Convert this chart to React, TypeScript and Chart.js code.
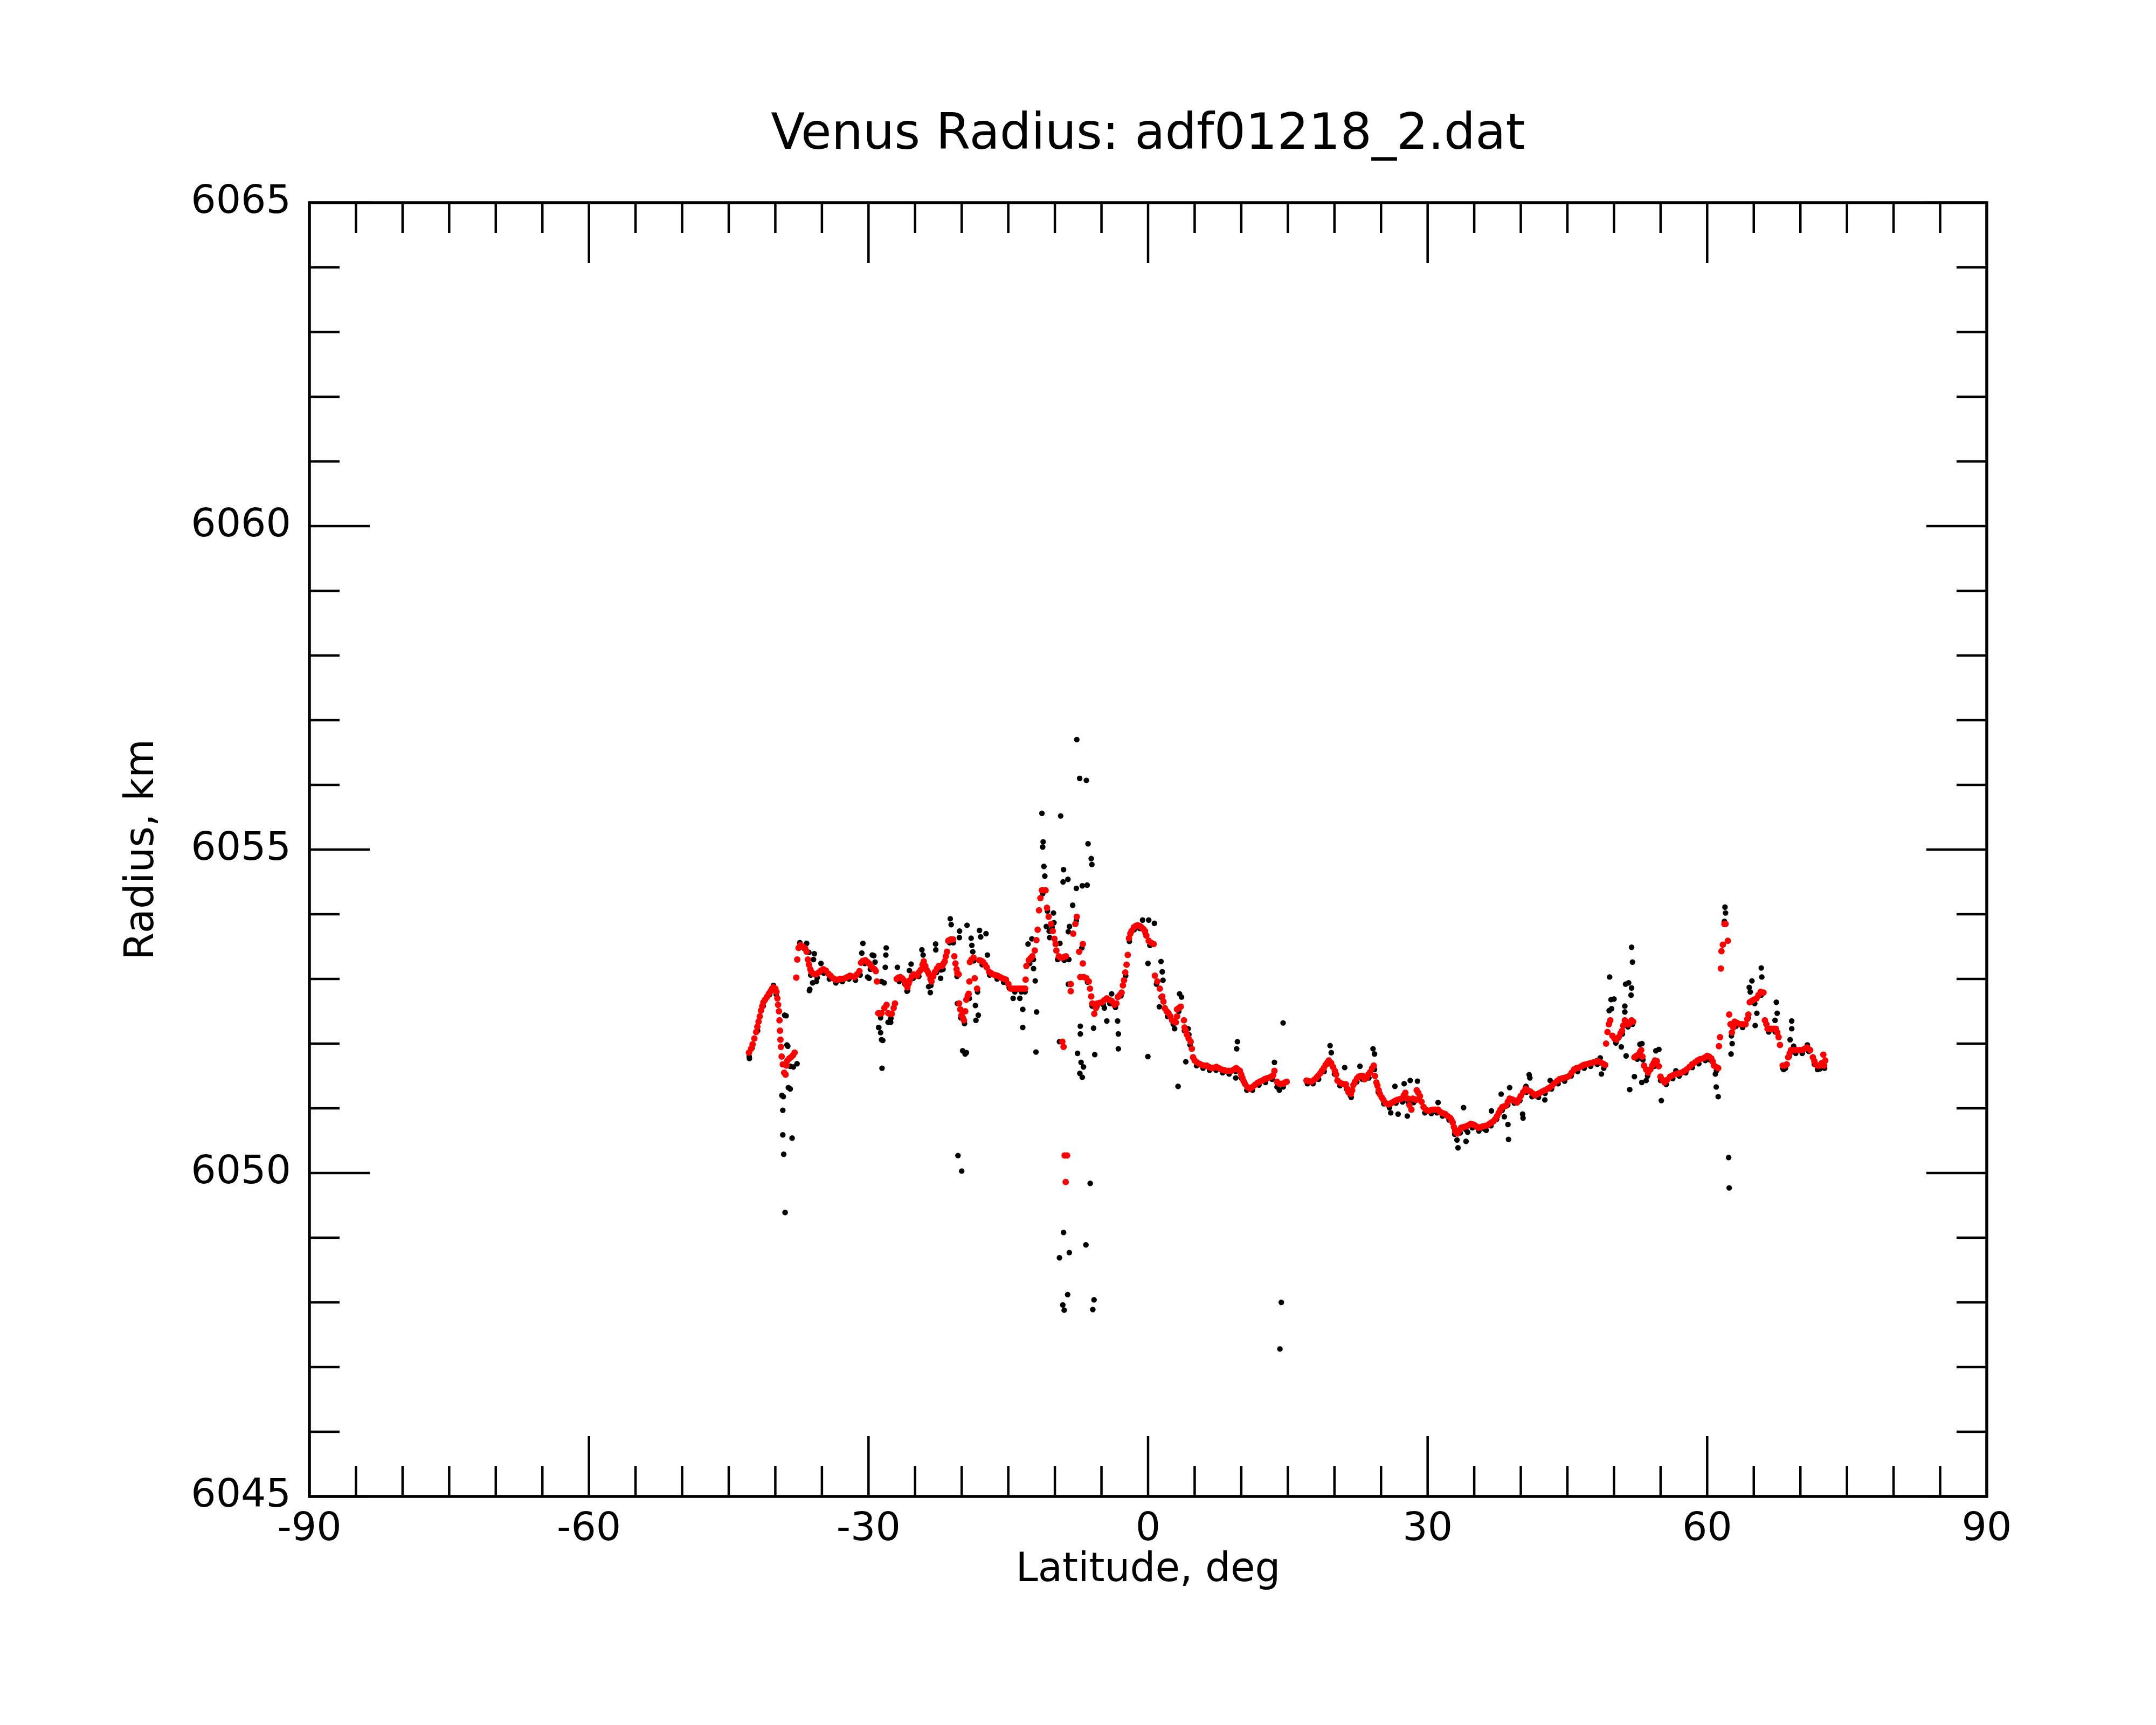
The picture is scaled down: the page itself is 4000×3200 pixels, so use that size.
import { useEffect, useRef } from "react"
import { Chart, registerables, type ChartConfiguration, type Plugin } from "chart.js"

Chart.register(...registerables)

type Pt = [number, number] // [latitude deg, radius km]

// axis setup
const LAT_MIN = -90
const LAT_MAX = 90
const LAT_LABEL_STEP = 30
const LAT_MINOR_STEP = 5
const R_MIN = 6045
const R_MAX = 6065
const R_LABEL_STEP = 5
const R_MINOR_STEP = 1

const TITLE = "Venus Radius: adf01218_2.dat"
const X_TITLE = "Latitude, deg"
const Y_TITLE = "Radius, km"

// filtered profile (red), south part
const fitSouth: Pt[] = [
  [-42.83, 6051.86], [-42.6, 6051.92], [-42.44, 6051.99], [-42.25, 6052.08], [-42.06, 6052.18], [-41.93, 6052.26],
  [-41.8, 6052.34], [-41.67, 6052.42], [-41.54, 6052.51], [-41.4, 6052.58], [-41.28, 6052.64], [-41.1, 6052.68],
  [-40.9, 6052.72], [-40.7, 6052.77], [-40.51, 6052.81], [-40.35, 6052.85], [-40.2, 6052.87], [-40.0, 6052.85],
  [-39.87, 6052.8], [-39.78, 6052.7], [-39.7, 6052.6], [-39.61, 6052.5], [-39.55, 6052.36], [-39.5, 6052.2],
  [-39.45, 6052.06], [-39.4, 6051.95], [-39.32, 6051.8], [-39.2, 6051.68], [-39.05, 6051.55], [-38.9, 6051.52],
  [-38.8, 6051.66], [-38.7, 6051.74], [-38.5, 6051.77], [-38.32, 6051.79], [-38.1, 6051.82], [-37.93, 6051.86],
  [-37.75, 6053.02], [-37.65, 6053.3], [-37.5, 6053.48], [-37.3, 6053.52], [-37.03, 6053.5], [-36.8, 6053.47],
  [-36.64, 6053.42], [-36.5, 6053.3], [-36.39, 6053.22], [-36.25, 6053.15], [-36.13, 6053.11], [-35.9, 6053.08],
  [-35.61, 6053.07], [-35.35, 6053.1], [-35.1, 6053.13], [-34.85, 6053.15], [-34.58, 6053.13], [-34.3, 6053.08],
  [-34.07, 6053.05], [-33.8, 6053.01], [-33.55, 6052.99], [-33.3, 6052.99], [-33.04, 6053.0], [-32.78, 6053.0],
  [-32.52, 6053.01], [-32.26, 6053.03], [-32.0, 6053.05], [-31.75, 6053.04], [-31.49, 6053.03], [-31.23, 6053.07],
  [-30.97, 6053.12], [-30.8, 6053.25], [-30.6, 6053.28], [-30.33, 6053.29], [-30.1, 6053.26], [-29.94, 6053.24],
  [-29.75, 6053.2], [-29.56, 6053.17], [-29.35, 6053.15], [-29.22, 6053.12], [-29.09, 6052.96],
  [-28.95, 6052.47], [-28.8, 6052.46], [-28.6, 6052.47], [-28.3, 6052.55], [-28.06, 6052.6], [-27.88, 6052.47],
  [-27.7, 6052.46], [-27.5, 6052.46], [-27.3, 6052.55], [-27.16, 6052.62],
  [-26.98, 6053.0], [-26.8, 6053.02], [-26.59, 6053.03], [-26.4, 6053.01], [-26.21, 6052.98], [-26.0, 6052.92],
  [-25.82, 6052.87], [-25.7, 6052.93], [-25.56, 6052.98], [-25.35, 6053.04], [-25.17, 6053.07], [-24.98, 6053.06],
  [-24.79, 6053.05], [-24.6, 6053.1], [-24.4, 6053.14], [-24.2, 6053.22], [-24.07, 6053.27], [-23.9, 6053.2],
  [-23.76, 6053.14], [-23.6, 6053.1], [-23.5, 6053.07], [-23.35, 6053.0], [-23.24, 6052.96], [-23.05, 6053.04],
  [-22.86, 6053.11], [-22.65, 6053.16], [-22.47, 6053.2], [-22.25, 6053.2], [-22.08, 6053.2], [-21.95, 6053.24],
  [-21.82, 6053.27], [-21.7, 6053.35], [-21.57, 6053.42], [-21.44, 6053.59], [-21.3, 6053.6], [-21.18, 6053.61],
  [-21.05, 6053.61], [-20.92, 6053.61], [-20.79, 6053.35], [-20.67, 6053.24], [-20.55, 6053.15], [-20.46, 6053.09],
  [-20.33, 6053.07],
  [-20.28, 6052.62], [-20.15, 6052.53], [-20.02, 6052.44], [-19.88, 6052.4], [-19.76, 6052.36], [-19.62, 6052.5],
  [-19.5, 6052.68], [-19.35, 6052.74], [-19.25, 6052.77],
  [-19.17, 6052.96], [-19.12, 6053.26], [-18.95, 6053.3], [-18.73, 6053.33], [-18.6, 6053.01], [-18.35, 6052.85],
  [-18.09, 6053.29], [-17.9, 6053.28], [-17.7, 6053.26], [-17.5, 6053.22], [-17.31, 6053.18], [-17.06, 6053.11],
  [-16.85, 6053.09], [-16.67, 6053.07], [-16.4, 6053.06], [-16.15, 6053.05], [-15.9, 6053.03], [-15.64, 6053.01],
  [-15.45, 6053.0], [-15.25, 6052.99], [-14.99, 6052.92], [-14.74, 6052.85], [-14.5, 6052.85], [-14.22, 6052.85],
  [-13.95, 6052.85], [-13.71, 6052.85], [-13.45, 6052.85], [-13.19, 6052.85],
]

// filtered profile (red), around the equator
const fitEquator: Pt[] = [
  [-13.14, 6052.99], [-13.06, 6053.2], [-12.8, 6053.29], [-12.6, 6053.32], [-12.42, 6053.35], [-12.16, 6053.44],
  [-11.98, 6053.6], [-11.85, 6053.76], [-11.7, 6054.06], [-11.55, 6054.25], [-11.39, 6054.37], [-11.2, 6054.37],
  [-11.0, 6054.37], [-10.85, 6054.1], [-10.67, 6053.96], [-10.41, 6053.85], [-10.23, 6053.74], [-10.05, 6053.62],
  [-9.92, 6053.54], [-9.84, 6053.44], [-9.58, 6053.35], [-9.4, 6053.33], [-9.2, 6053.33], [-9.0, 6053.34],
  [-8.81, 6053.35],
  [-9.2, 6052.03], [-9.07, 6051.95], [-8.95, 6050.27], [-8.7, 6050.27], [-8.84, 6049.86],
  [-8.3, 6052.92], [-8.3, 6052.81], [-8.04, 6053.7], [-7.8, 6053.85], [-7.65, 6053.96], [-7.39, 6053.42],
  [-7.0, 6053.54], [-7.0, 6053.24], [-7.27, 6053.03], [-6.9, 6053.03], [-6.62, 6053.01], [-6.36, 6052.96],
  [-6.23, 6052.85], [-6.1, 6052.73], [-5.98, 6052.62], [-5.77, 6052.46], [-5.6, 6052.55], [-5.46, 6052.62],
  [-5.2, 6052.63], [-4.94, 6052.64], [-4.7, 6052.67], [-4.43, 6052.7], [-4.2, 6052.68], [-3.91, 6052.66],
  [-3.63, 6052.6], [-3.4, 6052.62], [-3.24, 6052.72], [-3.05, 6052.75], [-2.84, 6052.79], [-2.7, 6052.9],
  [-2.58, 6052.98], [-2.45, 6053.1], [-2.31, 6053.22], [-2.18, 6053.37], [-2.05, 6053.63], [-1.9, 6053.7],
  [-1.78, 6053.74], [-1.52, 6053.8], [-1.3, 6053.82], [-1.12, 6053.83], [-0.9, 6053.82], [-0.72, 6053.8],
  [-0.5, 6053.77], [-0.33, 6053.74], [-0.19, 6053.67], [0.07, 6053.59], [0.3, 6053.56], [0.6, 6053.54],
  [0.73, 6053.05], [0.99, 6052.96], [1.26, 6052.85], [1.52, 6052.73], [1.65, 6052.65], [1.79, 6052.55],
  [2.0, 6052.5], [2.19, 6052.47], [2.4, 6052.42], [2.58, 6052.36], [2.8, 6052.34], [2.98, 6052.33],
  [3.11, 6052.53], [3.11, 6052.42], [3.3, 6052.55], [3.51, 6052.57], [3.85, 6052.36], [3.91, 6052.25],
  [4.05, 6052.2], [4.17, 6052.14], [4.35, 6052.08], [4.57, 6052.03], [4.7, 6051.92], [4.83, 6051.79],
  [5.0, 6051.74], [5.23, 6051.71], [5.5, 6051.69], [5.76, 6051.67], [6.0, 6051.66], [6.29, 6051.66],
  [6.55, 6051.64], [6.82, 6051.62], [7.1, 6051.63], [7.34, 6051.64], [7.6, 6051.62], [7.87, 6051.6],
  [8.15, 6051.59], [8.4, 6051.58], [8.65, 6051.58], [8.93, 6051.58], [9.2, 6051.6], [9.46, 6051.62],
  [9.65, 6051.6], [9.86, 6051.58], [10.0, 6051.52], [10.12, 6051.47], [10.25, 6051.42], [10.39, 6051.38],
  [10.65, 6051.33], [10.92, 6051.3], [11.2, 6051.33], [11.45, 6051.36], [11.7, 6051.39], [11.97, 6051.41],
  [12.25, 6051.43], [12.5, 6051.45], [12.7, 6051.46], [12.9, 6051.47], [13.2, 6051.49], [13.43, 6051.51],
  [13.56, 6051.58], [13.83, 6051.41], [14.09, 6051.38], [14.3, 6051.38], [14.49, 6051.38], [14.7, 6051.4],
  [14.88, 6051.41],
  [17.0, 6051.43], [17.25, 6051.42], [17.53, 6051.41], [17.8, 6051.44], [18.06, 6051.47], [18.23, 6051.5],
  [18.46, 6051.54], [18.65, 6051.58], [18.85, 6051.62], [19.05, 6051.67], [19.25, 6051.71], [19.4, 6051.74],
  [19.65, 6051.7], [19.85, 6051.64], [20.04, 6051.58], [20.18, 6051.52], [20.32, 6051.43], [20.55, 6051.4],
  [20.84, 6051.38], [21.05, 6051.37], [21.23, 6051.37], [21.4, 6051.3], [21.5, 6051.25], [21.76, 6051.22],
  [21.9, 6051.28], [22.03, 6051.36], [22.2, 6051.41], [22.42, 6051.46], [22.6, 6051.49], [22.82, 6051.5],
  [23.05, 6051.5], [23.22, 6051.45], [23.44, 6051.47], [23.65, 6051.52], [23.83, 6051.56], [24.05, 6051.62],
  [24.22, 6051.66], [24.35, 6051.5], [24.5, 6051.4], [24.61, 6051.35], [24.75, 6051.28], [24.87, 6051.22],
]

// filtered profile (red), north part
const fitNorth: Pt[] = [
  [25.07, 6051.17], [25.26, 6051.13], [25.5, 6051.08], [25.78, 6051.06], [26.0, 6051.07], [26.18, 6051.09],
  [26.45, 6051.11], [26.7, 6051.13], [26.95, 6051.14], [27.22, 6051.15], [27.45, 6051.2], [27.61, 6051.24],
  [27.87, 6051.15], [28.05, 6051.05], [28.26, 6050.98], [28.39, 6051.15], [28.6, 6051.14], [28.78, 6051.13],
  [28.83, 6051.28], [29.0, 6051.24], [29.17, 6051.19], [29.35, 6051.1], [29.56, 6051.02], [29.8, 6050.98],
  [30.08, 6050.96], [30.35, 6050.97], [30.6, 6050.98], [30.85, 6050.98], [31.12, 6050.98], [31.3, 6050.95],
  [31.51, 6050.93], [31.7, 6050.92], [31.9, 6050.91], [32.15, 6050.88], [32.43, 6050.85], [32.55, 6050.82],
  [32.69, 6050.78], [32.82, 6050.71], [32.95, 6050.65], [33.08, 6050.62], [33.21, 6050.61], [33.4, 6050.66],
  [33.6, 6050.7], [33.85, 6050.71], [34.12, 6050.72], [34.4, 6050.74], [34.64, 6050.76], [34.85, 6050.75],
  [35.03, 6050.74], [35.22, 6050.72], [35.42, 6050.7], [35.7, 6050.71], [35.94, 6050.72], [36.2, 6050.73],
  [36.46, 6050.74], [36.65, 6050.76], [36.85, 6050.78], [37.05, 6050.8], [37.24, 6050.83], [37.45, 6050.88],
  [37.63, 6050.93], [37.82, 6050.98], [38.02, 6051.02], [38.2, 6051.03], [38.41, 6051.04], [38.6, 6051.1],
  [38.8, 6051.15], [39.0, 6051.14], [39.2, 6051.13], [39.4, 6051.11], [39.59, 6051.09], [39.8, 6051.14],
  [39.98, 6051.19], [40.25, 6051.25], [40.5, 6051.3], [40.75, 6051.28], [41.02, 6051.26], [41.28, 6051.23],
  [41.54, 6051.2], [41.8, 6051.22], [42.06, 6051.24], [42.32, 6051.26], [42.58, 6051.28], [42.85, 6051.3],
  [43.1, 6051.32], [43.35, 6051.35], [43.62, 6051.39], [43.9, 6051.42], [44.14, 6051.45], [44.4, 6051.46],
  [44.66, 6051.47], [44.92, 6051.48], [45.19, 6051.5], [45.45, 6051.55], [45.71, 6051.6], [45.97, 6051.62],
  [46.23, 6051.63], [46.5, 6051.65], [46.75, 6051.67], [47.0, 6051.68], [47.27, 6051.69], [47.53, 6051.7],
  [47.79, 6051.71], [48.05, 6051.72], [48.31, 6051.73], [48.57, 6051.71], [48.83, 6051.69], [49.05, 6051.67],
  [49.15, 6052.0], [49.3, 6052.18], [49.45, 6052.3], [49.6, 6052.36], [49.83, 6052.12], [50.05, 6052.08],
  [50.27, 6052.06], [50.5, 6052.1], [50.7, 6052.16], [50.86, 6052.2], [51.0, 6052.28], [51.16, 6052.36],
  [51.4, 6052.33], [51.6, 6052.3], [51.75, 6052.33], [51.89, 6052.36], [52.05, 6052.34],
  [52.19, 6051.79], [52.4, 6051.81], [52.63, 6051.83], [52.8, 6051.87], [52.92, 6051.9], [53.05, 6051.8],
  [53.22, 6051.66], [53.45, 6051.6], [53.66, 6051.55], [53.9, 6051.6], [54.1, 6051.66], [54.25, 6051.7],
  [54.4, 6051.74], [54.6, 6051.73], [54.8, 6051.65], [54.99, 6051.49], [55.2, 6051.44], [55.43, 6051.4],
  [55.7, 6051.44], [56.02, 6051.49], [56.3, 6051.51], [56.61, 6051.53], [56.9, 6051.54], [57.2, 6051.55],
  [57.5, 6051.57], [57.79, 6051.6], [58.1, 6051.64], [58.38, 6051.68], [58.7, 6051.71], [58.97, 6051.74],
  [59.25, 6051.76], [59.56, 6051.77], [59.8, 6051.79], [60.0, 6051.81], [60.2, 6051.8], [60.44, 6051.77],
  [60.6, 6051.72], [60.73, 6051.66], [60.95, 6051.64], [61.18, 6051.62],
  [61.26, 6051.96], [61.38, 6052.1], [61.47, 6053.16], [61.53, 6053.43], [61.68, 6053.53], [61.85, 6053.85],
  [61.97, 6053.85], [62.21, 6053.59], [62.36, 6052.45], [62.5, 6052.3], [62.65, 6052.17], [62.8, 6052.25],
  [62.94, 6052.34], [63.2, 6052.32], [63.53, 6052.3], [63.8, 6052.3], [64.12, 6052.3], [64.3, 6052.38],
  [64.42, 6052.45], [64.57, 6052.64], [64.8, 6052.66], [65.01, 6052.68], [65.3, 6052.7], [65.5, 6052.75],
  [65.74, 6052.8], [66.04, 6052.79], [66.19, 6052.36], [66.35, 6052.3], [66.48, 6052.23], [66.7, 6052.23],
  [66.92, 6052.23], [67.15, 6052.23], [67.37, 6052.23], [67.52, 6052.17], [67.66, 6052.1], [67.81, 6051.98],
  [68.1, 6051.66], [68.3, 6051.66], [68.54, 6051.68], [68.69, 6051.79], [68.85, 6051.85], [68.99, 6051.9],
  [69.3, 6051.9], [69.58, 6051.9], [69.9, 6051.9], [70.17, 6051.9], [70.45, 6051.92], [70.75, 6051.94],
  [71.05, 6051.9], [71.34, 6051.79], [71.5, 6051.73], [71.64, 6051.68], [71.85, 6051.66], [72.08, 6051.66],
  [72.3, 6051.7], [72.46, 6051.83], [72.67, 6051.74], [72.55, 6051.66],
]

// raw measurements (black) that sit along the filtered profile
const rawTrack: Pt[] = [
  [-42.8, 6051.8], [-42.5, 6051.93], [-41.9, 6052.2], [-41.3, 6052.58], [-40.6, 6052.76], [-40.2, 6052.9],
  [-39.9, 6052.76], [-37.4, 6053.5], [-36.9, 6053.47], [-36.2, 6053.06], [-35.5, 6053.02], [-34.8, 6053.09],
  [-34.2, 6053.0], [-33.5, 6052.94], [-32.8, 6052.96], [-32.1, 6053.0], [-31.4, 6052.98], [-30.9, 6053.06],
  [-30.4, 6053.24], [-29.8, 6053.15], [-28.7, 6052.4], [-27.6, 6052.39], [-26.7, 6052.96], [-26.1, 6052.92],
  [-25.8, 6052.82], [-25.2, 6053.01], [-24.6, 6053.04], [-23.9, 6053.15], [-23.3, 6052.9], [-22.7, 6053.1],
  [-22.0, 6053.15], [-21.3, 6053.56], [-20.9, 6053.56], [-20.5, 6053.04], [-20.1, 6052.4], [-19.7, 6052.31],
  [-18.7, 6053.28], [-18.3, 6052.8], [-17.8, 6053.22], [-17.0, 6053.06], [-16.2, 6053.0], [-15.5, 6052.95],
  [-14.9, 6052.86], [-14.3, 6052.8], [-13.6, 6052.8], [-13.2, 6052.8], [-12.7, 6053.24], [-12.3, 6053.3],
  [-11.3, 6054.32], [-10.8, 6054.05], [-10.3, 6053.8], [-9.7, 6053.3], [-9.0, 6053.29], [-8.5, 6053.3],
  [-7.7, 6053.9], [-7.1, 6053.48], [-6.5, 6052.95], [-6.0, 6052.58], [-5.5, 6052.57], [-4.8, 6052.6],
  [-4.1, 6052.62], [-3.5, 6052.56], [-2.9, 6052.74], [-2.4, 6053.05], [-2.0, 6053.58], [-1.5, 6053.76],
  [-0.9, 6053.78], [-0.3, 6053.7], [0.2, 6053.52], [0.9, 6052.92], [1.4, 6052.72], [2.1, 6052.42],
  [2.7, 6052.3], [3.3, 6052.5], [3.9, 6052.2], [4.5, 6051.98], [5.2, 6051.66], [5.9, 6051.62],
  [6.6, 6051.59], [7.3, 6051.59], [8.0, 6051.55], [8.7, 6051.53], [9.4, 6051.57], [10.0, 6051.47],
  [10.6, 6051.28], [11.2, 6051.28], [11.9, 6051.36], [12.6, 6051.4], [13.3, 6051.45], [13.9, 6051.34],
  [14.5, 6051.33], [17.1, 6051.38], [17.7, 6051.38], [18.3, 6051.45], [18.9, 6051.57], [19.4, 6051.69],
  [20.0, 6051.53], [20.6, 6051.35], [21.3, 6051.3], [21.8, 6051.17], [22.4, 6051.41], [23.0, 6051.45],
  [23.7, 6051.47], [24.3, 6051.6], [24.7, 6051.25], [25.3, 6051.07], [25.9, 6051.01], [26.6, 6051.08],
  [27.3, 6051.1], [27.9, 6051.1], [28.5, 6051.09], [29.1, 6051.14], [29.7, 6050.93], [30.4, 6050.92],
  [31.0, 6050.93], [31.6, 6050.88], [32.3, 6050.82], [32.9, 6050.6], [33.5, 6050.62], [34.1, 6050.67],
  [34.8, 6050.7], [35.5, 6050.65], [36.1, 6050.68], [36.8, 6050.73], [37.4, 6050.83], [38.0, 6050.97],
  [38.6, 6051.05], [39.3, 6051.08], [39.9, 6051.12], [40.6, 6051.25], [41.2, 6051.18], [41.9, 6051.17],
  [42.6, 6051.23], [43.3, 6051.3], [44.0, 6051.38], [44.7, 6051.42], [45.4, 6051.5], [46.1, 6051.57],
  [46.8, 6051.62], [47.5, 6051.65], [48.2, 6051.68], [48.9, 6051.62], [49.5, 6052.31], [50.2, 6052.01],
  [50.9, 6052.15], [51.5, 6052.26], [52.0, 6052.3], [52.5, 6051.76], [53.1, 6051.75], [53.6, 6051.5],
  [54.3, 6051.65], [55.0, 6051.43], [55.6, 6051.37], [56.3, 6051.46], [57.0, 6051.5], [57.7, 6051.55],
  [58.4, 6051.63], [59.1, 6051.69], [59.8, 6051.74], [60.3, 6051.75], [61.0, 6051.58], [62.6, 6052.12],
  [63.1, 6052.27], [63.8, 6052.25], [64.4, 6052.4], [65.1, 6052.62], [65.8, 6052.75], [66.6, 6052.18],
  [67.3, 6052.18], [68.2, 6051.6], [68.8, 6051.8], [69.5, 6051.85], [70.2, 6051.85], [70.9, 6051.88],
  [71.5, 6051.68], [72.1, 6051.61], [72.6, 6051.62],
]

// raw measurements (black) scattered off the profile
const rawScatter: Pt[] = [
  [-42.78, 6051.77], [-39.0, 6052.44], [-38.84, 6052.43], [-38.75, 6051.98], [-38.66, 6051.96], [-38.6, 6051.32],
  [-39.3, 6051.2], [-39.14, 6051.18], [-38.4, 6051.3], [-38.06, 6051.64], [-37.67, 6051.69], [-38.4, 6051.65],
  [-37.37, 6053.56], [-36.64, 6053.55], [-36.4, 6053.41], [-35.9, 6053.3], [-35.82, 6053.39], [-35.1, 6053.24],
  [-36.34, 6052.82], [-36.3, 6052.84], [-36.0, 6052.94], [-35.61, 6052.96], [-33.04, 6052.98],
  [-30.6, 6053.55], [-30.72, 6053.4], [-30.1, 6053.03], [-29.94, 6053.01], [-29.6, 6053.37], [-29.43, 6053.36],
  [-29.3, 6053.26], [-28.1, 6053.48], [-28.14, 6053.37], [-28.2, 6053.18], [-28.32, 6052.94], [-28.6, 6052.96],
  [-28.91, 6052.25], [-28.9, 6052.25], [-28.7, 6052.17], [-28.47, 6052.05], [-28.6, 6052.06], [-28.55, 6051.62],
  [-27.9, 6052.33], [-27.62, 6052.33], [-26.9, 6053.18], [-25.43, 6053.23], [-25.61, 6053.13], [-25.87, 6052.81],
  [-24.27, 6053.45], [-24.14, 6053.37], [-22.8, 6053.54], [-22.78, 6053.45], [-23.55, 6052.88], [-23.37, 6052.79],
  [-22.26, 6053.01], [-22.21, 6053.14], [-21.23, 6053.93], [-21.13, 6053.84], [-20.23, 6053.74], [-20.25, 6053.64],
  [-19.43, 6053.83], [-20.46, 6052.62], [-19.9, 6051.89], [-19.63, 6051.84], [-19.5, 6051.86], [-18.99, 6053.63],
  [-18.91, 6053.52], [-18.81, 6053.42], [-18.09, 6053.75], [-17.96, 6053.65], [-17.39, 6053.7], [-19.17, 6052.7],
  [-18.53, 6052.59], [-18.47, 6052.36], [-18.22, 6052.44], [-17.24, 6053.37], [-14.48, 6052.7], [-13.76, 6052.7],
  [-13.45, 6052.53], [-13.45, 6052.25], [-12.88, 6053.54], [-12.47, 6053.62], [-12.29, 6053.16], [-12.11, 6052.97],
  [-11.96, 6052.49], [-12.03, 6051.87], [-11.39, 6055.56], [-11.26, 6055.12], [-11.31, 6055.04], [-11.18, 6054.74],
  [-11.08, 6054.59], [-10.92, 6053.81], [-10.61, 6053.74], [-10.56, 6053.64], [-10.15, 6054.02], [-10.1, 6053.87],
  [-9.38, 6055.52], [-9.07, 6054.69], [-9.12, 6054.5], [-8.6, 6054.54], [-9.46, 6053.55], [-9.51, 6052.03],
  [-8.43, 6053.81], [-8.56, 6053.73], [-8.09, 6054.14], [-7.65, 6056.7], [-7.34, 6056.1], [-6.62, 6056.07],
  [-7.7, 6054.4], [-7.06, 6054.44], [-6.54, 6054.45], [-6.44, 6055.09], [-6.1, 6054.86], [-6.03, 6054.77],
  [-8.56, 6052.92], [-7.27, 6052.27], [-7.27, 6052.15], [-7.57, 6051.85], [-7.19, 6051.71], [-7.32, 6051.54],
  [-6.93, 6051.64], [-7.06, 6051.48], [-5.85, 6052.24], [-5.72, 6051.83], [-4.94, 6052.62], [-4.43, 6052.35],
  [-4.69, 6052.55], [-3.91, 6052.77], [-3.27, 6052.35], [-3.19, 6052.15], [-3.19, 6051.92],
  [-0.59, 6053.91], [0.07, 6053.91], [0.68, 6053.86], [0.2, 6053.52], [-0.01, 6053.24], [1.39, 6053.27],
  [1.52, 6053.11], [1.6, 6052.98], [1.21, 6052.57], [3.38, 6052.77], [3.59, 6052.72], [2.85, 6052.23],
  [4.3, 6052.23], [4.38, 6052.14], [-0.02, 6051.8], [4.05, 6051.72], [3.22, 6051.34], [9.59, 6052.03],
  [9.51, 6051.92], [14.49, 6052.32], [13.56, 6051.71], [9.41, 6051.47], [13.84, 6051.33], [14.09, 6051.28],
  [19.53, 6051.97], [19.66, 6051.86], [21.1, 6051.63], [22.74, 6051.65], [24.14, 6051.92], [24.3, 6051.84],
  [21.7, 6051.2], [26.04, 6050.93], [26.83, 6050.91], [26.49, 6051.34], [27.48, 6051.38], [28.13, 6051.43],
  [28.91, 6051.42], [27.82, 6050.88], [31.12, 6051.09], [33.15, 6050.51], [33.26, 6050.39], [34.12, 6050.49],
  [33.86, 6051.01], [34.3, 6050.63], [36.28, 6050.66], [36.85, 6050.96], [37.89, 6051.22], [38.23, 6050.87],
  [38.68, 6050.52], [38.62, 6050.75], [38.8, 6051.32], [40.19, 6050.91], [40.24, 6050.85], [40.89, 6051.52],
  [40.97, 6051.47], [40.55, 6051.34], [42.58, 6051.13], [43.15, 6051.43], [48.52, 6051.78], [48.65, 6051.53],
  [48.21, 6051.74], [49.53, 6053.03], [49.68, 6052.68], [49.48, 6052.51], [50.0, 6052.69], [49.74, 6052.54],
  [51.57, 6052.94], [51.89, 6053.49], [51.98, 6053.26], [51.24, 6052.92], [51.89, 6052.86], [51.83, 6052.75],
  [51.16, 6052.58], [51.16, 6052.49], [51.3, 6051.81], [51.69, 6051.29], [52.19, 6051.49], [52.98, 6051.4],
  [53.45, 6051.43], [50.78, 6051.95], [53.0, 6052.0], [52.78, 6051.99], [54.49, 6051.89], [54.82, 6051.91],
  [55.08, 6051.12], [56.64, 6051.58], [60.88, 6051.53], [60.97, 6051.33], [61.18, 6051.18],
  [61.91, 6054.11], [61.97, 6054.02], [61.85, 6053.89], [62.56, 6051.84], [62.68, 6052.0], [64.8, 6052.97],
  [65.8, 6053.17], [65.86, 6053.03], [64.51, 6052.87], [64.62, 6052.8], [65.33, 6052.47], [65.15, 6052.28],
  [67.42, 6052.64], [67.51, 6052.47], [67.28, 6052.36], [69.07, 6052.35], [69.07, 6052.23], [68.9, 6052.06],
  [69.28, 6051.96], [71.84, 6051.6], [70.75, 6051.98], [68.1, 6051.62], [68.4, 6051.62],
]

// raw measurements (black) far below the profile
const rawDrops: Pt[] = [
  [-39.2, 6050.97], [-39.2, 6050.59], [-38.2, 6050.54], [-39.1, 6050.29], [-38.95, 6049.39],
  [-20.4, 6050.27], [-20.0, 6050.03], [-6.21, 6049.84], [-9.07, 6049.08], [-6.67, 6048.89], [-8.45, 6048.77],
  [-9.51, 6048.69], [-8.63, 6048.12], [-5.8, 6048.04], [-9.15, 6047.96], [-9.0, 6047.88], [-5.93, 6047.89],
  [14.3, 6048.0], [14.15, 6047.28], [62.3, 6050.24], [62.36, 6049.77],
]

const FONT = "'DejaVu Sans', 'Liberation Sans', sans-serif"
const toXY = (pts: Pt[]) => pts.map(([x, y]) => ({ x, y }))

// frame + inward tick marks on all four sides
const framePlugin: Plugin<"scatter"> = {
  id: "frame",
  afterDraw(chart) {
    const { ctx, chartArea: a, scales } = chart
    const xs = scales.x
    const ys = scales.y
    ctx.save()
    ctx.strokeStyle = "#000"
    ctx.lineCap = "butt"
    ctx.lineWidth = 4.5
    ctx.beginPath()
    for (let v = LAT_MIN; v <= LAT_MAX; v += LAT_MINOR_STEP) {
      const px = xs.getPixelForValue(v)
      const len = v % LAT_LABEL_STEP === 0 ? 112 : 56
      ctx.moveTo(px, a.bottom)
      ctx.lineTo(px, a.bottom - len)
      ctx.moveTo(px, a.top)
      ctx.lineTo(px, a.top + len)
    }
    for (let v = R_MIN; v <= R_MAX; v += R_MINOR_STEP) {
      const py = ys.getPixelForValue(v)
      const len = v % R_LABEL_STEP === 0 ? 112 : 56
      ctx.moveTo(a.left, py)
      ctx.lineTo(a.left + len, py)
      ctx.moveTo(a.right, py)
      ctx.lineTo(a.right - len, py)
    }
    ctx.stroke()
    ctx.lineWidth = 5.5
    ctx.strokeRect(a.left, a.top, a.right - a.left, a.bottom - a.top)
    ctx.restore()
  },
}

export default function App() {
  const canvasRef = useRef<HTMLCanvasElement>(null)
  const chartRef = useRef<Chart<"scatter"> | null>(null)

  useEffect(() => {
    if (!canvasRef.current) return
    chartRef.current?.destroy()

    const cfg: ChartConfiguration<"scatter"> = {
      type: "scatter",
      data: {
        datasets: [
          {
            label: "filtered",
            data: toXY([...fitSouth, ...fitEquator, ...fitNorth]),
            backgroundColor: "rgb(255,0,0)",
            pointRadius: 6,
            pointBorderWidth: 0,
          },
          {
            label: "raw",
            data: toXY([...rawTrack, ...rawScatter, ...rawDrops]),
            backgroundColor: "rgb(0,0,0)",
            pointRadius: 5.2,
            pointBorderWidth: 0,
          },
        ],
      },
      options: {
        responsive: false,
        devicePixelRatio: 1,
        animation: false,
        layout: { padding: { left: 0, right: 314, top: 0, bottom: 224 } },
        plugins: {
          legend: { display: false },
          tooltip: { enabled: false },
          title: {
            display: true,
            text: TITLE,
            fullSize: false,
            color: "#000",
            font: { family: FONT, size: 92, weight: "normal" },
            padding: { top: 197, bottom: 68.6 },
          },
        },
        scales: {
          x: {
            type: "linear",
            position: "bottom",
            min: LAT_MIN,
            max: LAT_MAX,
            grid: { display: false },
            border: { display: false },
            ticks: {
              stepSize: LAT_LABEL_STEP,
              color: "#000",
              font: { family: FONT, size: 73 },
              padding: 10,
              maxRotation: 0,
              callback: (v) => String(v),
            },
            title: {
              display: true,
              text: X_TITLE,
              color: "#000",
              font: { family: FONT, size: 74 },
              padding: { top: 0, bottom: 18 },
            },
            afterFit: (s) => { s.height = 200 },
          },
          y: {
            type: "linear",
            position: "left",
            min: R_MIN,
            max: R_MAX,
            grid: { display: false },
            border: { display: false },
            ticks: {
              stepSize: R_LABEL_STEP,
              color: "#000",
              font: { family: FONT, size: 73 },
              padding: 26,
              callback: (v) => String(v),
            },
            title: {
              display: true,
              text: Y_TITLE,
              color: "#000",
              font: { family: FONT, size: 74 },
              padding: { top: 220, bottom: 0 },
            },
            afterFit: (s) => { s.width = 574 },
          },
        },
      },
      plugins: [framePlugin],
    }
    chartRef.current = new Chart(canvasRef.current, cfg)
    return () => { chartRef.current?.destroy() }
  }, [])

  return (
    <div style={{ position: "absolute", left: 0, top: 0, width: 4000, height: 3200, background: "#fff" }}>
      <canvas ref={canvasRef} width={4000} height={3200} style={{ width: 4000, height: 3200 }} />
    </div>
  )
}
